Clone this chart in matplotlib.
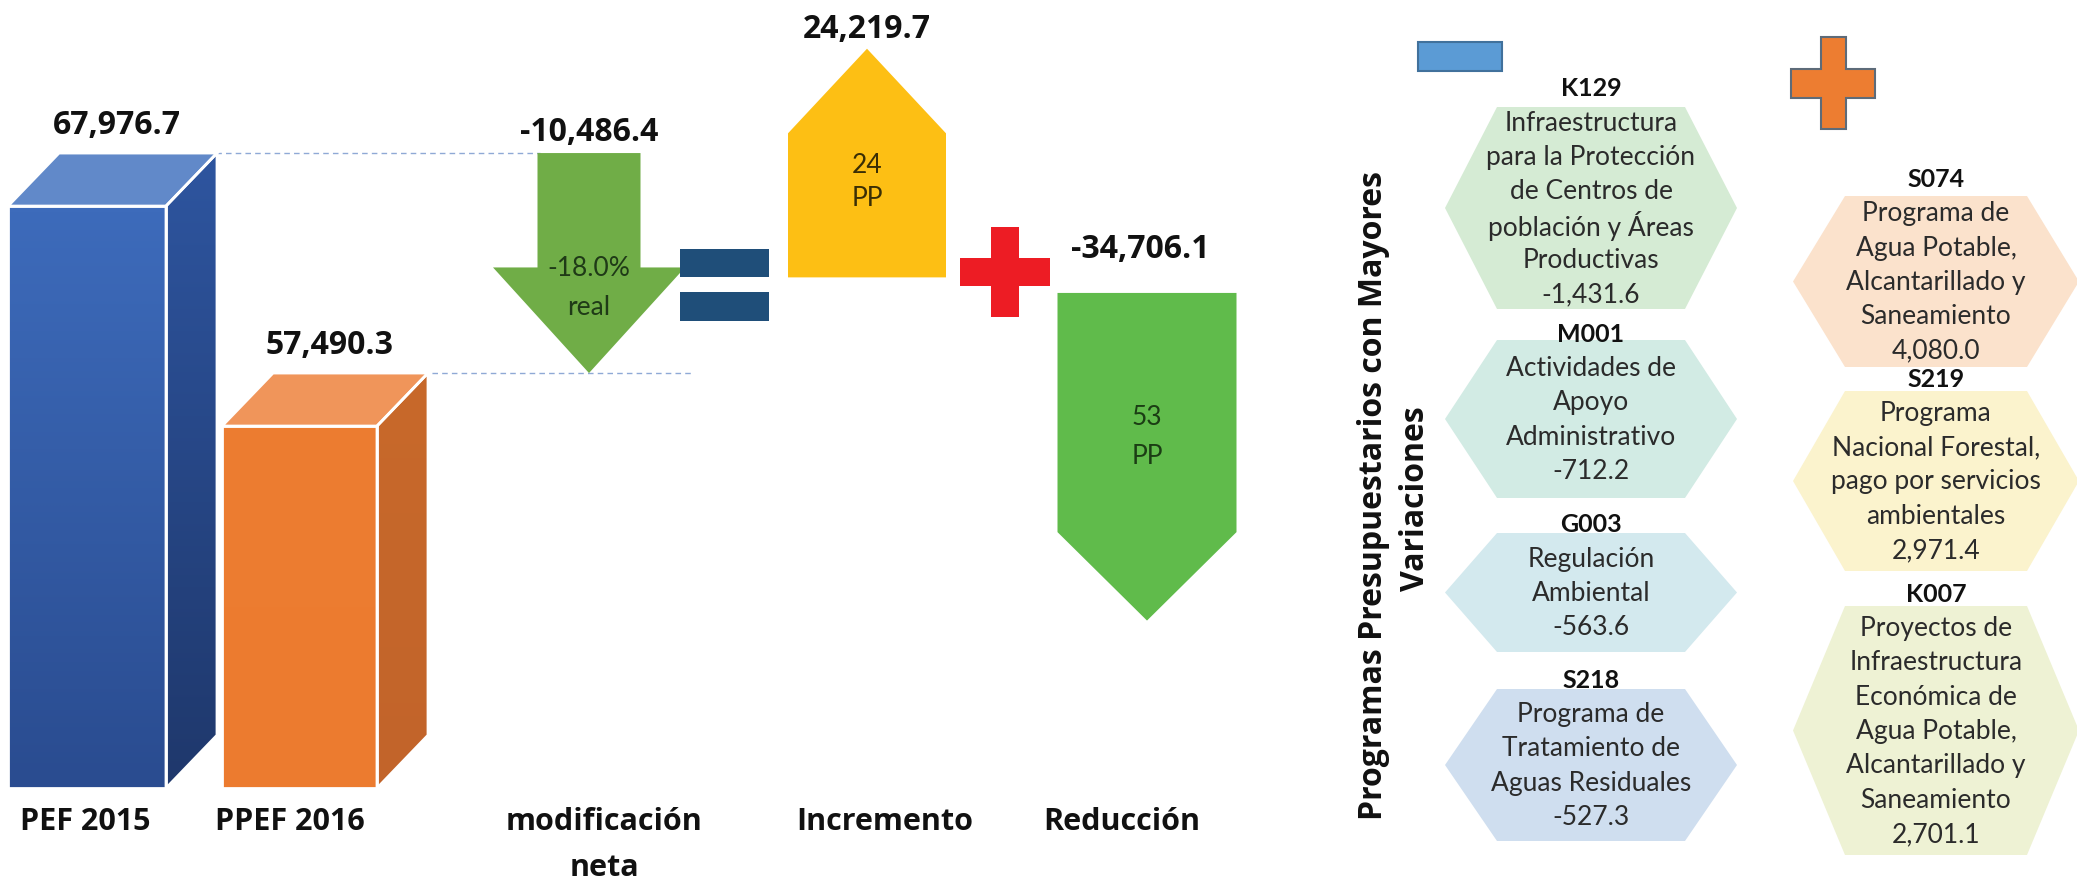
"""Waterfall-style infographic: PEF 2015 vs PPEF 2016 and the programs with the largest changes."""

import numpy as np
import matplotlib
matplotlib.use("Agg")
import matplotlib.pyplot as plt
from matplotlib.patches import Polygon, Rectangle
from matplotlib.colors import LinearSegmentedColormap

# ---- data -------------------------------------------------------------
bar_labels = ["PEF 2015", "PPEF 2016"]
bar_values = [67976.7, 57490.3]
net_change = -10486.4
net_real_pct = -18.0
increase = 24219.7
increase_pp = 24
decrease = -34706.1
decrease_pp = 53
flow_labels = ["modificación", "Incremento", "Reducción"]

neg_codes = ["K129", "M001", "G003", "S218"]
neg_names = [
    "Infraestructura\npara la Protección\nde Centros de\npoblación y Áreas\nProductivas",
    "Actividades de\nApoyo\nAdministrativo",
    "Regulación\nAmbiental",
    "Programa de\nTratamiento de\nAguas Residuales",
]
neg_values = [-1431.6, -712.2, -563.6, -527.3]

pos_codes = ["S074", "S219", "K007"]
pos_names = [
    "Programa de\nAgua Potable,\nAlcantarillado y\nSaneamiento",
    "Programa\nNacional Forestal,\npago por servicios\nambientales",
    "Proyectos de\nInfraestructura\nEconómica de\nAgua Potable,\nAlcantarillado y\nSaneamiento",
]
pos_values = [4080.0, 2971.4, 2701.1]

panel_title = ["Programas Presupuestarios con Mayores", "Variaciones"]

# ---- layout / style ---------------------------------------------------
W, H = 2077, 879
Y_LO, Y_HI = 33420, 75320          # value axis span over the figure height
PX = (Y_HI - Y_LO) / H             # value units per pixel
BASE = 37700
DX, DY = 51, 53 * PX               # 3-d depth of the bars

bar_x = [8, 222]
bar_w = [158, 155]
bar_front = [("#3d6bbb", "#2a4c90"), ("#ed7d31", "#ec7b2f")]
bar_top = ["#6189c9", "#f0955a"]
bar_side = [("#2e559f", "#1f386c"), ("#c8692b", "#c2642a")]

BOLD = dict(fontfamily="Open Sans", fontweight="bold", color="#111111")
LATO = dict(fontfamily="Lato")

ARROW_SCALE = 0.45
INCR_MID, RED_MID = 67500, 53500

hex_left = (1445, 1737)
hex_right = (1793, 2079)
neg_spans = [(108, 310), (341, 499), (534, 653), (690, 842)]
pos_spans = [(197, 368), (392, 572), (607, 856)]
neg_colors = ["#d5ebd4", "#d2ebe4", "#d3e9ee", "#cfdeef"]
pos_colors = ["#fbe2cc", "#fbf3cd", "#eef2d4"]
LINE = 34.3


def shade(ax, verts, c_top, c_bot, z):
    poly = Polygon(verts, closed=True, fc="none", ec="none", zorder=z)
    ax.add_patch(poly)
    xs = [p[0] for p in verts]
    ys = [p[1] for p in verts]
    cmap = LinearSegmentedColormap.from_list("g", [c_bot, c_top])
    im = ax.imshow(np.linspace(0, 1, 64).reshape(-1, 1), cmap=cmap,
                   extent=(min(xs), max(xs), min(ys), max(ys)), origin="lower",
                   aspect="auto", zorder=z, interpolation="bilinear")
    im.set_clip_path(poly)


def plus(ax, cx, cy, half, arm_v, arm_h, **kw):
    pts = [(cx - arm_v, cy - half[1]), (cx + arm_v, cy - half[1]), (cx + arm_v, cy - arm_h),
           (cx + half[0], cy - arm_h), (cx + half[0], cy + arm_h), (cx + arm_v, cy + arm_h),
           (cx + arm_v, cy + half[1]), (cx - arm_v, cy + half[1]), (cx - arm_v, cy + arm_h),
           (cx - half[0], cy + arm_h), (cx - half[0], cy - arm_h), (cx - arm_v, cy - arm_h)]
    ax.add_patch(Polygon(pts, closed=True, **kw))


def stacked(ax, x, yc, lines, step, **kw):
    n = len(lines)
    for i, s in enumerate(lines):
        ax.text(x, yc + (i - (n - 1) / 2) * step, s, ha="center", va="center", **kw)


fig = plt.figure(figsize=(W / 100, H / 100), dpi=100)
ax = fig.add_axes([0, 0, 1, 1])       # x in pixels, y in budget units
ax2 = fig.add_axes([0, 0, 1, 1])      # plain pixel layout, y downwards
ax2.patch.set_alpha(0)

# ---- 3-d bars ----------------------------------------------------------
for i, v in enumerate(bar_values):
    x0 = bar_x[i]
    x1 = x0 + bar_w[i]
    tf = v - DY
    front = [(x0, BASE), (x1, BASE), (x1, tf), (x0, tf)]
    top = [(x0, tf), (x1, tf), (x1 + DX, v), (x0 + DX, v)]
    side = [(x1, BASE), (x1 + DX, BASE + DY), (x1 + DX, v), (x1, tf)]
    shade(ax, front, bar_front[i][0], bar_front[i][1], 2)
    shade(ax, side, bar_side[i][0], bar_side[i][1], 2)
    ax.add_patch(Polygon(top, closed=True, fc=bar_top[i], ec="none", zorder=2))
    for f in (front, top, side):
        ax.add_patch(Polygon(f, closed=True, fc="none", ec="white", lw=2, zorder=3))
    ax.text(x0 + bar_w[i] / 2 + 30, v + 29 * PX, f"{v:,.1f}", ha="center", va="center",
            fontsize=23, zorder=5, **BOLD)

# dashed guides between bars and net-change arrow
ax.plot([138, 540], [bar_values[0]] * 2, ls=(0, (4, 3)), lw=1, color="#8fa9d6", zorder=1)
ax.plot([325, 693], [bar_values[1]] * 2, ls=(0, (4, 3)), lw=1, color="#8fa9d6", zorder=1)

# ---- net change arrow (from one bar value down to the other) ----------
top_v = bar_values[0]
tip_v = bar_values[0] + net_change
head_v = tip_v - 0.48 * net_change
cx, sw, hw = 589, 103, 192
ax.add_patch(Polygon([(cx - sw / 2, top_v), (cx + sw / 2, top_v), (cx + sw / 2, head_v),
                      (cx + hw / 2, head_v), (cx, tip_v), (cx - hw / 2, head_v),
                      (cx - sw / 2, head_v)], closed=True, fc="#70ad47", ec="none", zorder=2))
ax.text(cx, top_v + 22 * PX, f"{net_change:,.1f}", ha="center", va="center", fontsize=23,
        zorder=5, **BOLD)
stacked(ax, cx, head_v - 20 * PX, [f"{net_real_pct:.1f}%", "real"], -39 * PX,
        fontsize=19, color="#1f3a17", zorder=5, **LATO)

# ---- increase arrow (up) -----------------------------------------------
L = increase * ARROW_SCALE
bot_v, tip_v = INCR_MID - L / 2, INCR_MID + L / 2
sh_v = tip_v - 0.37 * L
cx, w = 867, 158
ax.add_patch(Polygon([(cx - w / 2, bot_v), (cx + w / 2, bot_v), (cx + w / 2, sh_v), (cx, tip_v),
                      (cx - w / 2, sh_v)], closed=True, fc="#fdbf14", ec="none", zorder=2))
ax.text(cx, tip_v + 20 * PX, f"{increase:,.1f}", ha="center", va="center", fontsize=23,
        zorder=5, **BOLD)
stacked(ax, cx, sh_v - 48 * PX, [f"{increase_pp}", "PP"], -33 * PX, fontsize=19,
        color="#3a2e05", zorder=5, **LATO)

# ---- decrease arrow (down) ---------------------------------------------
L = -decrease * ARROW_SCALE
top_v, tip_v = RED_MID + L / 2, RED_MID - L / 2
sh_v = tip_v + 0.27 * L
cx, w = 1147, 179
ax.add_patch(Polygon([(cx - w / 2, top_v), (cx + w / 2, top_v), (cx + w / 2, sh_v), (cx, tip_v),
                      (cx - w / 2, sh_v)], closed=True, fc="#60bb4b", ec="none", zorder=2))
ax.text(cx - 7, top_v + 44 * PX, f"{decrease:,.1f}", ha="center", va="center", fontsize=23,
        zorder=5, **BOLD)
stacked(ax, cx, top_v - 143 * PX, [f"{decrease_pp}", "PP"], -39 * PX, fontsize=19,
        color="#1b3d14", zorder=5, **LATO)

# ---- operators ---------------------------------------------------------
ax2.add_patch(Rectangle((680, 250), 89, 28, fc="#1f4e79", ec="none"))
ax2.add_patch(Rectangle((680, 293), 89, 29, fc="#1f4e79", ec="none"))
plus(ax2, 1005, 273, (45, 45), 14, 14, fc="#ed1c24", ec="none")

# ---- category labels ---------------------------------------------------
for x, s in zip([85, 290], bar_labels):
    ax2.text(x, 822, s, ha="center", va="center", fontsize=22, **BOLD)
for x, s in zip([604, 885, 1122], flow_labels):
    ax2.text(x, 822, s, ha="center", va="center", fontsize=22, **BOLD)
ax2.text(604, 868, "neta", ha="center", va="center", fontsize=22, **BOLD)

# ---- right panel: programs with largest variations ---------------------
ax2.add_patch(Rectangle((1418, 43), 84, 29, fc="#5b9bd5", ec="#41719c", lw=1.5))
plus(ax2, 1833, 84, (42, 46), 12.5, 14.5, fc="#ed7d31", ec="#5d6b79", lw=1.5)

ax2.text(1374, 496, panel_title[0], rotation=90, ha="center", va="center", fontsize=23, **BOLD)
ax2.text(1416, 499, panel_title[1], rotation=90, ha="center", va="center", fontsize=23, **BOLD)

groups = [(hex_left, neg_spans, neg_colors, neg_codes, neg_names, neg_values),
          (hex_right, pos_spans, pos_colors, pos_codes, pos_names, pos_values)]
for (x0, x1), spans, colors, codes, names, values in groups:
    for (t, b), c, code, name, val in zip(spans, colors, codes, names, values):
        yc = (t + b) / 2
        ins = 52
        ax2.add_patch(Polygon([(x0, yc), (x0 + ins, t), (x1 - ins, t), (x1, yc), (x1 - ins, b),
                               (x0 + ins, b)], closed=True, fc=c, ec="none"))
        lines = name.split("\n") + [f"{val:,.1f}"]
        xc = (x0 + x1) / 2
        stacked(ax2, xc, yc, lines, LINE, fontsize=19, color="#2b2b2b", **LATO)
        first = yc - (len(lines) - 1) / 2 * LINE
        ax2.text(xc, first - LINE, code, ha="center", va="center", fontsize=18,
                 fontfamily="Lato", fontweight="bold", color="#111111")

ax.set_xlim(0, W)
ax.set_ylim(Y_LO, Y_HI)
ax.axis("off")
ax2.set_xlim(0, W)
ax2.set_ylim(H, 0)
ax2.axis("off")

fig.savefig("out.png", dpi=100, facecolor="white")
